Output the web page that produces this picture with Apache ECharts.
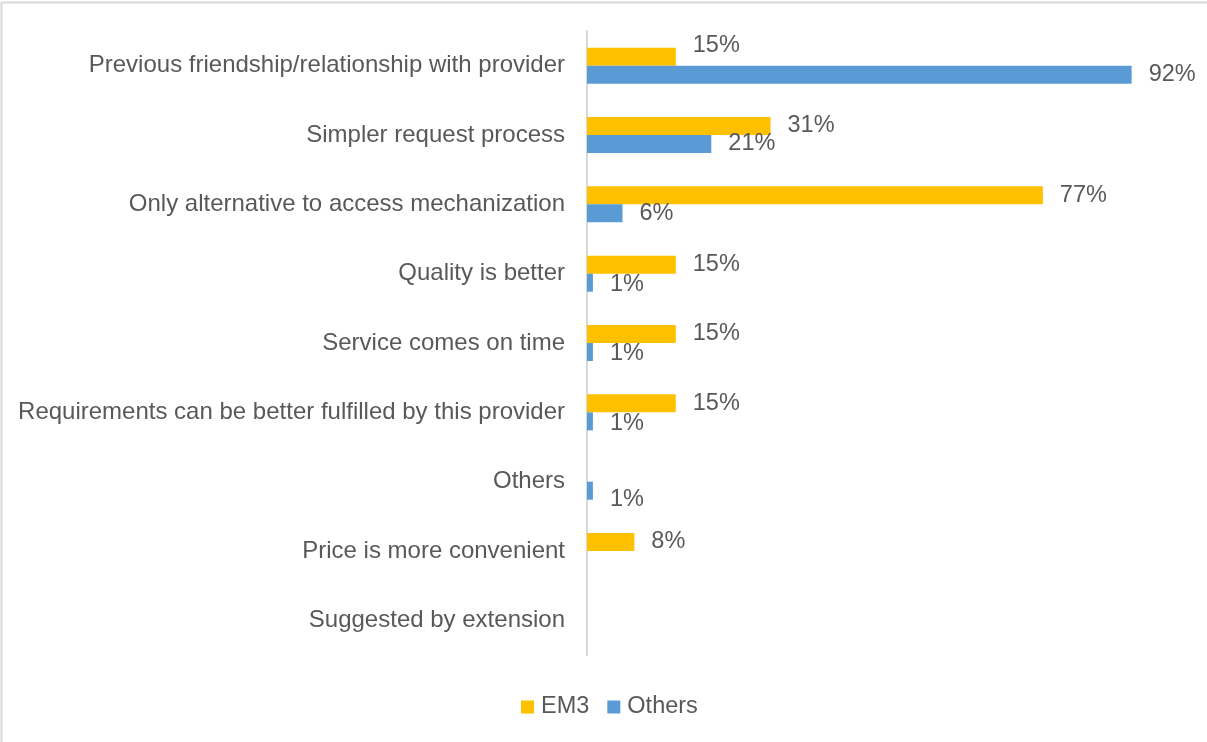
<!DOCTYPE html>
<html>
<head>
<meta charset="utf-8">
<script src="https://cdn.jsdelivr.net/npm/echarts@6/dist/echarts.min.js"></script>
<style>
  html, body { margin: 0; padding: 0; background: #fff; }
  #chart { width: 1207px; height: 742px; }
</style>
</head>
<body>
<div id="chart"></div>
<script>
// Reasons for choosing a mechanization service provider (share of respondents, %)
const categories = [
  'Previous friendship/relationship with provider',
  'Simpler request process',
  'Only alternative to access mechanization',
  'Quality is better',
  'Service comes on time',
  'Requirements can be better fulfilled by this provider',
  'Others',
  'Price is more convenient',
  'Suggested by extension'
];
const em3Values    = [15, 31, 77, 15, 15, 15, null, 8, null];
const othersValues = [92, 21, 6, 1, 1, 1, 1, null, null];

// Label nudges so neighbouring value labels do not collide
const em3LabelShift    = { 0: [0, -11] };
const othersLabelShift = { 3: [0, 2], 4: [0, 2], 5: [0, 2], 6: [0, 9] };

const FONT = '"Liberation Sans", Arial, sans-serif';
const GREY = '#595959';

function toData(values, shifts) {
  return values.map((v, i) => {
    if (v == null) return null;
    const item = { value: v };
    if (shifts[i]) item.label = { offset: shifts[i] };
    return item;
  });
}

const chart = echarts.init(document.getElementById('chart'), null, { renderer: 'canvas' });

const valueLabel = {
  show: true,
  position: 'right',
  distance: 17,
  color: GREY,
  fontFamily: FONT,
  fontSize: 23.5,
  formatter: p => p.value + '%'
};

chart.setOption({
  animation: false,
  backgroundColor: '#fff',
  textStyle: { fontFamily: FONT },
  graphic: [{
    type: 'rect',
    shape: { x: 1.5, y: 2.5, width: 1220, height: 760 },
    style: { fill: 'none', stroke: '#d9d9d9', lineWidth: 2 },
    silent: true,
    z: -1
  }],
  grid: { left: 587, right: 28, top: 31, bottom: 87, containLabel: false },
  legend: {
    data: ['EM3', 'Others'],
    bottom: 18,
    left: 516,
    itemWidth: 13,
    itemHeight: 13,
    itemGap: 18,
    icon: 'rect',
    textStyle: { color: GREY, fontSize: 23.5, fontFamily: FONT, padding: [0, 0, 0, 2] }
  },
  xAxis: {
    type: 'value',
    min: 0,
    max: 100,
    show: false
  },
  yAxis: {
    type: 'category',
    data: categories,
    inverse: true,
    axisLine: { show: true, lineStyle: { color: '#d9d9d9', width: 2 } },
    axisTick: { show: false },
    axisLabel: { color: GREY, fontSize: 24, fontFamily: FONT, margin: 22 },
    splitLine: { show: false }
  },
  series: [
    {
      name: 'EM3',
      type: 'bar',
      data: toData(em3Values, em3LabelShift),
      itemStyle: { color: '#FFC000' },
      barGap: '0%',
      barCategoryGap: '48%',
      label: valueLabel
    },
    {
      name: 'Others',
      type: 'bar',
      data: toData(othersValues, othersLabelShift),
      itemStyle: { color: '#5B9BD5' },
      barGap: '0%',
      barCategoryGap: '48%',
      label: valueLabel
    }
  ]
});
</script>
</body>
</html>
